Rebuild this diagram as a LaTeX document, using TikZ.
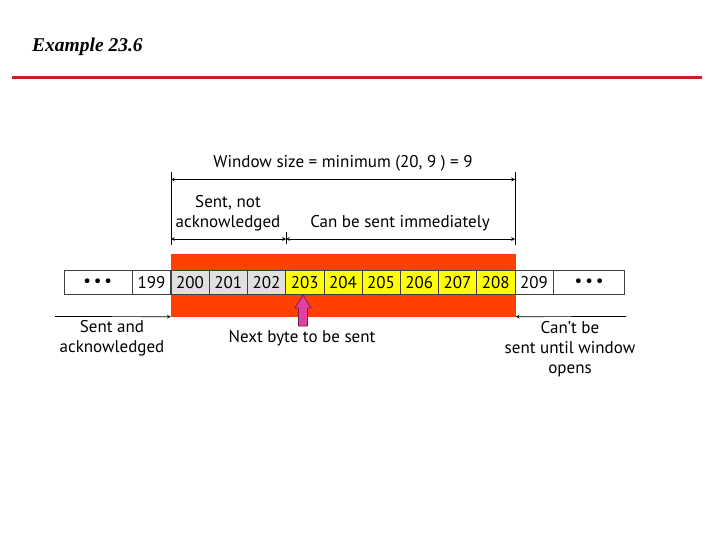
\documentclass[tikz,border=0pt]{standalone}
\usepackage{fontspec}
\setmainfont{Liberation Serif}
\newfontfamily\labelfont{PT Sans}
\usetikzlibrary{positioning}
\definecolor{winred}{RGB}{255,64,0}
\definecolor{cellgray}{RGB}{224,224,224}
\definecolor{cellyellow}{RGB}{255,255,0}
\definecolor{rulered}{RGB}{204,32,32}
\definecolor{nextpink}{RGB}{224,64,160}
\definecolor{nextedge}{RGB}{120,30,80}

\begin{document}
\begin{tikzpicture}[x=1pt,y=-1pt,>=stealth,
  cell/.style={draw=black!75,line width=.6pt,minimum width=38.2pt,minimum height=24pt,
    inner sep=0pt,font=\labelfont\fontsize{17}{17}\selectfont},
  lbl/.style={font=\labelfont\fontsize{17}{20}\selectfont,align=center,inner sep=1pt},
  dim/.style={<->,line width=.7pt},
  tick/.style={line width=.9pt}]
  \useasboundingbox (0,0) rectangle (720,540);
  % heading
  \node[anchor=base west,inner sep=0pt,font=\bfseries\itshape\fontsize{19.5}{19.5}\selectfont] (title) at (32,52) {Example 23.6};
  \draw[rulered,line width=3pt] (12,78) -- (702,78);
  % window and bytes
  \node[fill=winred,minimum width=344.5pt,minimum height=62.5pt,inner sep=0pt] (win) at (343.25,285.25) {};
  \foreach \n in {200,201,202}
    \node[cell,fill=cellgray] (b\n) at ({171+38.2*(\n-200)+19.1},282.5) {\n};
  \foreach \n in {203,...,208}
    \node[cell,fill=cellyellow] (b\n) at ({171+38.2*(\n-200)+19.1},282.5) {\n};
  \node[cell,fill=white,minimum width=38pt,left=0pt of b200] (b199) {199};
  \node[cell,fill=white,minimum width=68pt,left=0pt of b199] (ldots) {\textbullet\,\textbullet\,\textbullet};
  \node[cell,fill=white,minimum width=38pt] (b209) at (534,282.5) {209};
  \node[cell,fill=white,minimum width=71pt,right=0pt of b209] (rdots) {\textbullet\,\textbullet\,\textbullet};
  % dimension lines
  \coordinate (wtl) at (171,172);
  \coordinate (wbl) at (171,245);
  \coordinate (wtr) at (515,172);
  \coordinate (wbr) at (515,245);
  \coordinate (nxt) at (286,239);
  \draw[tick] (wtl) -- (wbl);
  \draw[tick] (wtr) -- (wbr);
  \draw[tick] (286,232) -- (286,244);
  \draw[dim] (171,179.5) -- (515,179.5);
  \draw[dim] (171,239) -- (nxt);
  \draw[dim] (nxt) -- (515,239);
  \node[lbl] (wsize) at (343,163) {Window size = minimum (20, 9 ) = 9};
  \node[lbl] (sent) at (228,213.5) {Sent, not\\acknowledged};
  \node[lbl] (cansend) at (400,223) {Can be sent immediately};
  % outside the window
  \coordinate (lft) at (55,316.5);
  \coordinate (rgt) at (626,316.5);
  \draw[->,line width=.7pt] (lft) -- (win.south west);
  \draw[->,line width=.7pt] (rgt) -- (win.south east);
  \node[lbl] (acked) at (112,338) {Sent and\\acknowledged};
  \node[lbl] (wait) at (570,349) {Can’t be\\sent until window\\opens};
  % next byte pointer
  \draw[nextedge,fill=nextpink,line width=.8pt,line join=miter]
    (303,295) -- (311,308) -- (307.5,308) -- (307.5,326) -- (298.5,326) -- (298.5,308) -- (295,308) -- cycle;
  \node[lbl] (nextb) at (302,338) {Next byte to be sent};
\end{tikzpicture}
\end{document}
